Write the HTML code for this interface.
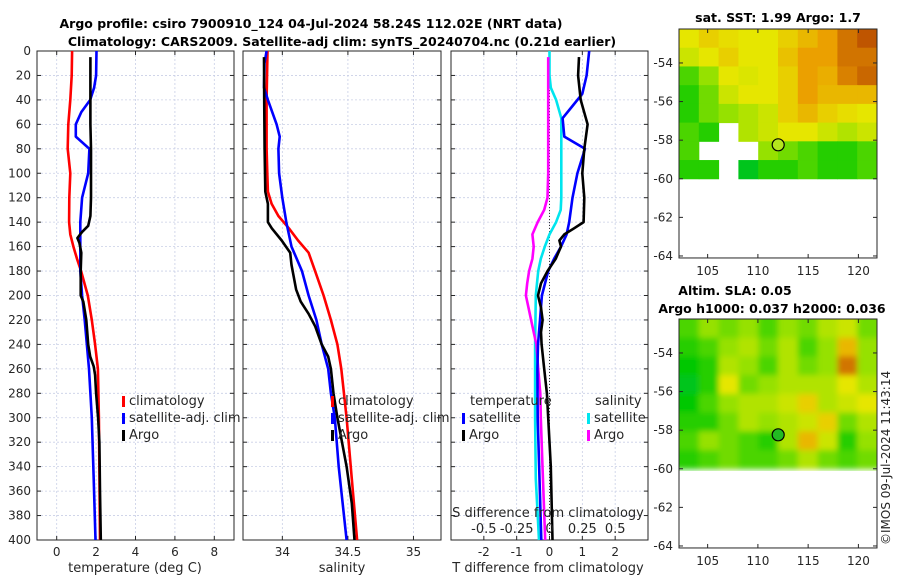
<!DOCTYPE html>
<html><head><meta charset="utf-8">
<style>
html,body{margin:0;padding:0;background:#fff;}
svg{display:block;font-family:"DejaVu Sans","Liberation Sans",sans-serif;}
.t{font-size:12px;fill:#262626;}
.b{font-size:12.5px;font-weight:bold;fill:#000;}
</style></head>
<body>
<svg id="fig" width="900" height="580" viewBox="0 0 900 580">
<defs><clipPath id="c1"><rect x="679" y="29" width="198" height="152"/></clipPath><clipPath id="c2"><rect x="679" y="319" width="198" height="152"/></clipPath>
<filter id="bl"><feGaussianBlur stdDeviation="3"/></filter></defs>
<text class="b" x="311" y="28" text-anchor="middle">Argo profile: csiro 7900910_124 04-Jul-2024 58.24S 112.02E (NRT data)</text>
<text class="b" x="342" y="46" text-anchor="middle">Climatology: CARS2009. Satellite-adj clim: synTS_20240704.nc (0.21d earlier)</text>
<text class="b" x="778" y="22" text-anchor="middle">sat. SST: 1.99 Argo: 1.7</text>
<text class="b" x="735" y="295" text-anchor="middle">Altim. SLA: 0.05</text>
<text class="b" x="772" y="313" text-anchor="middle">Argo h1000: 0.037 h2000: 0.036</text>
<text class="t" transform="translate(890,545) rotate(-90)">©IMOS 09-Jul-2024 11:43:14</text>
</svg>
<script>
const tClimD=[0,20,40,60,80,100,120,140,150,160,170,180,200,220,240,260,300,400];
const tClimV=[0.78,0.76,0.69,0.59,0.56,0.69,0.64,0.63,0.69,0.85,1.03,1.24,1.58,1.78,1.95,2.09,2.14,2.20];
const tSatD=[0,20,30,40,50,60,70,80,100,120,140,160,180,200,220,260,300,350,400];
const tSatV=[2.02,2.0,1.9,1.7,1.25,0.97,0.97,1.66,1.6,1.29,1.2,1.2,1.2,1.29,1.42,1.64,1.78,1.88,1.97];
const tArgoD=[5,20,40,60,80,100,120,135,143,148,153,157,165,180,200,205,220,240,250,258,265,280,300,320,360,400];
const tArgoV=[1.71,1.71,1.71,1.71,1.74,1.74,1.74,1.71,1.6,1.29,1.05,1.15,1.25,1.22,1.22,1.35,1.5,1.6,1.7,1.88,1.95,2.0,2.1,2.17,2.2,2.24];
const sClimD=[0,40,80,100,115,125,135,145,155,165,180,200,220,240,260,300,350,400];
const sClimV=[33.887,33.88,33.88,33.885,33.89,33.918,33.97,34.05,34.12,34.2,34.25,34.315,34.37,34.42,34.45,34.49,34.53,34.57];
const sSatD=[0,10,30,40,60,70,80,100,120,140,160,180,200,220,240,260,280,300,340,400];
const sSatV=[33.88,33.864,33.86,33.89,33.956,33.98,33.97,33.975,34.0,34.03,34.07,34.15,34.2,34.26,34.3,34.35,34.37,34.4,34.43,34.49];
const sArgoD=[5,40,80,115,125,140,145,155,165,175,195,205,215,225,240,250,260,280,300,340,370,400];
const sArgoV=[33.86,33.862,33.865,33.87,33.89,33.89,33.92,33.995,34.06,34.07,34.105,34.14,34.2,34.25,34.3,34.35,34.37,34.39,34.42,34.49,34.53,34.55];
const dTSatD=[0,20,35,45,55,70,80,100,120,140,150,160,170,180,200,220,240,260,300,400];
const dTSatV=[1.21,1.13,1.0,0.7,0.4,0.45,1.08,0.85,0.7,0.6,0.52,0.35,0.14,-0.04,-0.23,-0.29,-0.35,-0.37,-0.36,-0.25];
const dTArgoD=[5,20,40,60,80,100,120,140,145,150,155,160,170,180,190,200,210,220,230,240,260,280,300,340,400];
const dTArgoV=[0.9,0.87,0.95,1.16,1.06,1.0,1.06,1.04,0.75,0.45,0.3,0.35,0.19,-0.06,-0.26,-0.35,-0.26,-0.21,-0.26,-0.24,-0.16,-0.08,-0.04,0.04,0.09];
const dSSatD=[0,20,30,40,55,70,100,120,130,140,150,160,170,180,200,240,300,350,400];
const dSSatV=[0,0,0.01,0.05,0.09,0.09,0.09,0.09,0.085,0.05,0,-0.036,-0.066,-0.086,-0.104,-0.11,-0.11,-0.104,-0.08];
const dSArgoD=[5,50,100,120,130,140,150,160,170,180,190,200,210,220,230,240,260,280,300,340,400];
const dSArgoV=[-0.01,-0.01,-0.01,-0.015,-0.04,-0.09,-0.13,-0.12,-0.13,-0.155,-0.17,-0.18,-0.16,-0.14,-0.12,-0.10,-0.086,-0.07,-0.066,-0.053,-0.033];
const depthTicks=[0,20,40,60,80,100,120,140,160,180,200,220,240,260,280,300,320,340,360,380,400];
const tTicks=[0,2,4,6,8];
const sTicks=[34,34.5,35];
const dTTicks=[-2,-1,0,1,2];
const dSTicks=[-0.5,-0.25,0,0.25,0.5];
const dSTickLabels=["-0.5","-0.25","0","0.25","0.5"];
const latTicks=[-54,-56,-58,-60,-62,-64];
const lonTicks=[105,110,115,120];
const argoLon=112.02, argoLat=-58.24;
const sstGrid=[
[0.6,0.65,0.62,0.6,0.6,0.65,0.7,0.75,0.85,0.92],
[0.55,0.6,0.65,0.6,0.6,0.68,0.75,0.75,0.85,0.85],
[0.35,0.45,0.6,0.58,0.6,0.65,0.75,0.72,0.82,0.88],
[0.3,0.4,0.55,0.6,0.6,0.65,0.75,0.7,0.7,0.7],
[0.3,0.4,0.45,0.5,0.55,0.65,0.7,0.65,0.62,0.6],
[0.35,0.3,null,0.5,0.55,0.6,0.6,0.55,0.5,0.55],
[0.35,null,null,null,0.45,0.4,0.35,0.3,0.3,0.35],
[0.3,0.3,null,0.2,0.3,0.3,0.35,0.3,0.3,0.35]];
const slaGrid=[
[0.35,0.45,0.4,0.45,0.35,0.45,0.4,0.5,0.55,0.4],
[0.3,0.35,0.45,0.5,0.4,0.5,0.35,0.45,0.7,0.45],
[0.25,0.3,0.5,0.45,0.35,0.5,0.4,0.45,0.85,0.45],
[0.2,0.3,0.6,0.4,0.45,0.5,0.5,0.5,0.6,0.5],
[0.25,0.35,0.45,0.5,0.5,0.55,0.65,0.5,0.55,0.6],
[0.3,0.3,0.4,0.5,0.45,0.5,0.55,0.65,0.4,0.5],
[0.35,0.45,0.4,0.35,0.3,0.5,0.7,0.55,0.3,0.45],
[0.3,0.35,0.4,0.35,0.35,0.4,0.5,0.4,0.35,0.4]];

const NS="http://www.w3.org/2000/svg";
const svg=document.getElementById('fig');
function mk(tag,attrs,parent){const e=document.createElementNS(NS,tag);for(const k in attrs)e.setAttribute(k,attrs[k]);(parent||svg).appendChild(e);return e;}
const Y0=51,Y1=540;
const yD=d=>Y0+(d/400)*(Y1-Y0);

function panel(name,x0,x1,xmin,xmax,ticks,labels,showDepth){
  const xs=v=>x0+(v-xmin)/(xmax-xmin)*(x1-x0);
  const g=mk('g',{});
  
  
  depthTicks.forEach(d=>{
    const l=mk('line',{x1:x0,x2:x1,y1:yD(d),y2:yD(d),stroke:'#c9cfe6','stroke-width':0.8,'stroke-dasharray':'2,2'},g);
    
    
    mk('line',{x1:x0,x2:x0+4,y1:yD(d),y2:yD(d),stroke:'#262626'},g);
    mk('line',{x1:x1,x2:x1-4,y1:yD(d),y2:yD(d),stroke:'#262626'},g);
    if(showDepth){const t=mk('text',{x:x0-6,y:yD(d)+4,'text-anchor':'end',class:'t'},g);t.textContent=d;
      
      }
  });
  ticks.forEach((v,i)=>{
    const l=mk('line',{x1:xs(v),x2:xs(v),y1:Y0,y2:Y1,stroke:'#c9cfe6','stroke-width':0.8,'stroke-dasharray':'2,2'},g);
    
    
    mk('line',{x1:xs(v),x2:xs(v),y1:Y1,y2:Y1-4,stroke:'#262626'},g);
    mk('line',{x1:xs(v),x2:xs(v),y1:Y0,y2:Y0+4,stroke:'#262626'},g);
    const t=mk('text',{x:xs(v),y:Y1+16,'text-anchor':'middle',class:'t'},g);t.textContent=labels[i];
    
    
  });
  mk('rect',{x:x0,y:Y0,width:x1-x0,height:Y1-Y0,fill:'none',stroke:'#262626','stroke-width':1},g);
  return {g,xs};
}
function line(p,D,V,color,name,scale){
  const pts=D.map((d,i)=>p.xs(V[i]*(scale||1)).toFixed(1)+','+yD(d).toFixed(1)).join(' ');
  const e=mk('polyline',{points:pts,fill:'none',stroke:color,'stroke-width':2.6,'stroke-linejoin':'round'},p.g);
  
  
}
function legendEntry(g,x,y,color,label,name){
  mk('rect',{x:x,y:y-9,width:3,height:11,fill:color},g);
  const t=mk('text',{x:x+7,y:y,class:'t',style:'font-size:13px'},g);t.textContent=label;
  
  
}
function xlabel(x,text,name){const t=mk('text',{x:x,y:572,'text-anchor':'middle',class:'t',style:'font-size:13px'});t.textContent=text;
  
  }

const p1=panel('temperature-panel',37,234,-1,9,tTicks,tTicks.map(String),true);
line(p1,tClimD,tClimV,'#ff0000','temp-climatology-line');
line(p1,tSatD,tSatV,'#0000ff','temp-satellite-line');
line(p1,tArgoD,tArgoV,'#000000','temp-argo-line');
legendEntry(p1.g,122,405,'#ff0000','climatology','legend-climatology');
legendEntry(p1.g,122,422,'#0000ff','satellite-adj. clim','legend-satellite');
legendEntry(p1.g,122,439,'#000000','Argo','legend-argo');
xlabel(135,'temperature (deg C)','x-axis-title-temperature');

const p2=panel('salinity-panel',243,441,33.7,35.21,sTicks,['34','34.5','35'],false);
line(p2,sClimD,sClimV,'#ff0000','sal-climatology-line');
line(p2,sSatD,sSatV,'#0000ff','sal-satellite-line');
line(p2,sArgoD,sArgoV,'#000000','sal-argo-line');
legendEntry(p2.g,331,405,'#ff0000','climatology','legend-climatology-2');
legendEntry(p2.g,331,422,'#0000ff','satellite-adj. clim','legend-satellite-2');
legendEntry(p2.g,331,439,'#000000','Argo','legend-argo-2');
xlabel(342,'salinity','x-axis-title-salinity');

const p3=panel('difference-panel',451,648,-3,3,dTTicks,dTTicks.map(String),false);
mk('line',{x1:p3.xs(0),x2:p3.xs(0),y1:Y0,y2:Y1,stroke:'#333','stroke-width':1,'stroke-dasharray':'1,2'},p3.g);
line(p3,dSSatD,dSSatV,'#00e5ee','sdiff-satellite-line',4);
line(p3,dSArgoD,dSArgoV,'#ff00ff','sdiff-argo-line',4);
line(p3,dTSatD,dTSatV,'#0000ff','tdiff-satellite-line');
line(p3,dTArgoD,dTArgoV,'#000000','tdiff-argo-line');
{const t=mk('text',{x:470,y:405,class:'t',style:'font-size:13px'},p3.g);t.textContent='temperature';
 
 
 const t2=mk('text',{x:595,y:405,class:'t',style:'font-size:13px'},p3.g);t2.textContent='salinity';
 
 }
legendEntry(p3.g,462,422,'#0000ff','satellite','legend-t-satellite');
legendEntry(p3.g,462,439,'#000000','Argo','legend-t-argo');
legendEntry(p3.g,587,422,'#00e5ee','satellite','legend-s-satellite');
legendEntry(p3.g,587,439,'#ff00ff','Argo','legend-s-argo');
{const t=mk('text',{x:548,y:517,'text-anchor':'middle',class:'t',style:'font-size:13px'},p3.g);t.textContent='S difference from climatology';
 
 
 dSTicks.forEach((v,i)=>{const l=mk('text',{x:p3.xs(v*4),y:533,'text-anchor':'middle',class:'t',style:'font-size:13px'},p3.g);l.textContent=dSTickLabels[i];
  
  });}
xlabel(548,'T difference from climatology','x-axis-title-tdiff');

function color(v){
  const stops=[[0,[0,185,140]],[0.25,[0,200,0]],[0.45,[150,225,0]],[0.6,[230,230,0]],[0.75,[235,160,0]],[1,[170,50,0]]];
  for(let i=1;i<stops.length;i++){if(v<=stops[i][0]){const a=stops[i-1],b=stops[i];const f=(v-a[0])/(b[0]-a[0]);
    return 'rgb('+a[1].map((c,j)=>Math.round(c+(b[1][j]-c)*f)).join(',')+')';}}
  return 'rgb(170,50,0)';
}
function map(name,top,grid,markerFill,clip,blur){
  const x0=679,x1=877,latTop=-52.24,k=19.3;
  const xs=lon=>x0+(lon-102.15)*10.05;
  const ys=lat=>top+(latTop-lat)*k;
  const g=mk('g',{});
  
  
  const cg=mk('g',{'clip-path':'url(#'+clip+')'},g);
  const ig=mk('g',blur?{filter:'url(#bl)'}:{},cg);
  const rows=grid.length,cols=grid[0].length;
  const cw=(x1-x0)/cols,ch=(ys(-60)-ys(latTop))/rows;
  grid.forEach((row,r)=>row.forEach((v,c)=>{
    if(v===null)return;
    const ex=blur?(c===0?-6:0):0, ew=blur?((c===0||c===cols-1)?6:0):0;
    const ey=blur&&r===0?-6:0;
    const cell=mk('rect',{x:x0+c*cw+ex,y:top+r*ch+ey,width:cw+0.5+ew,height:ch+0.5-ey,fill:color(v)},ig);
    
    
  }));
  const y1=ys(-64)+2;
  mk('rect',{x:x0,y:top,width:x1-x0,height:y1-top,fill:'none',stroke:'#262626'},g);
  latTicks.forEach(l=>{mk('line',{x1:x0,x2:x0+4,y1:ys(l),y2:ys(l),stroke:'#262626'},g);
    mk('line',{x1:x1,x2:x1-4,y1:ys(l),y2:ys(l),stroke:'#262626'},g);
    const t=mk('text',{x:x0-6,y:ys(l)+4,'text-anchor':'end',class:'t'},g);t.textContent=l;
    
    });
  lonTicks.forEach(l=>{mk('line',{x1:xs(l),x2:xs(l),y1:y1,y2:y1-4,stroke:'#262626'},g);
    mk('line',{x1:xs(l),x2:xs(l),y1:top,y2:top+4,stroke:'#262626'},g);
    const t=mk('text',{x:xs(l),y:y1+17,'text-anchor':'middle',class:'t'},g);t.textContent=l;
    
    });
  const m=mk('circle',{cx:xs(argoLon),cy:ys(argoLat),r:6,fill:markerFill,stroke:'#000','stroke-width':1.2},g);
  
  
}
map('sst-map',29,sstGrid,'#b5e61d','c1',false);
map('sla-map',319,slaGrid,'#22bb22','c2',true);
</script>
</body></html>
